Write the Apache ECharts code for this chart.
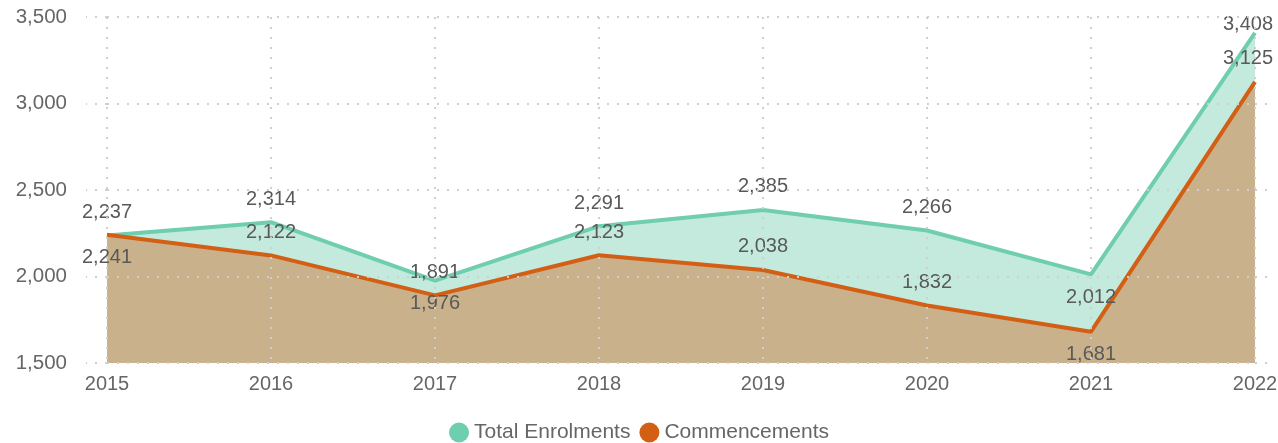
<!DOCTYPE html>
<html>
<head>
<meta charset="utf-8">
<script src="https://cdn.jsdelivr.net/npm/echarts@6/dist/echarts.min.js"></script>
<style>
  html, body { margin: 0; padding: 0; background: #fff; }
  #chart { width: 1278px; height: 443px; }
</style>
</head>
<body>
<div id="chart"></div>
<script>
const years = ["2015", "2016", "2017", "2018", "2019", "2020", "2021", "2022"];
const totalEnrolments = [2237, 2314, 1976, 2291, 2385, 2266, 2012, 3408];
const commencements = [2241, 2122, 1891, 2123, 2038, 1832, 1681, 3125];

const gridDots = { color: "#cfcfcf", width: 2, type: [2, 8] };

// labels that sit under their point instead of over it,
// the last one is pulled in from the right edge
function withLabels(values, below, lastOffset) {
  return values.map((v, i) => {
    if (below.includes(i)) {
      return { value: v, label: { position: "bottom" } };
    }
    if (i === values.length - 1) {
      return { value: v, label: { offset: lastOffset } };
    }
    return v;
  });
}

const totalData = withLabels(totalEnrolments, [2, 6], [-7, 15]);
const commData = withLabels(commencements, [0, 6], [-7, 0]);

const labelStyle = {
  show: true,
  position: "top",
  distance: 13,
  fontSize: 20,
  color: "#595959",
  formatter: p => p.value.toLocaleString("en-US")
};

const chart = echarts.init(document.querySelector("#chart"));
chart.setOption({
  animation: false,
  textStyle: { fontFamily: "Liberation Sans, Arial, sans-serif" },
  grid: { left: 107, right: 23, top: 17, bottom: 80, outerBoundsMode: "none", containLabel: false },
  legend: {
    top: 422,
    left: "center",
    padding: 0,
    icon: "circle",
    itemWidth: 20,
    itemHeight: 20,
    itemGap: 9,
    textStyle: { fontSize: 21, color: "#666" },
    data: ["Total Enrolments", "Commencements"]
  },
  xAxis: {
    type: "category",
    data: years,
    boundaryGap: false,
    z: 5,
    axisLine: { show: false },
    axisTick: { show: false },
    axisLabel: { color: "#666", fontSize: 20, margin: 11 },
    splitLine: { show: true, lineStyle: gridDots }
  },
  yAxis: [
    {
      type: "value",
      min: 1500,
      max: 3500,
      interval: 500,
      z: 5,
      axisLine: { show: false },
      axisTick: { show: true, length: 21, lineStyle: gridDots },
      axisLabel: {
        color: "#666",
        fontSize: 20.5,
        margin: 40,
        formatter: v => v.toLocaleString("en-US")
      },
      splitLine: { show: true, lineStyle: gridDots }
    },
    {
      type: "value",
      position: "right",
      min: 1500,
      max: 3500,
      interval: 500,
      z: 5,
      axisLine: { show: false },
      axisTick: { show: true, length: 12, lineStyle: gridDots },
      axisLabel: { show: false },
      splitLine: { show: false }
    }
  ],
  series: [
    {
      name: "Total Enrolments",
      type: "line",
      data: totalData,
      showSymbol: true,
      symbol: "circle",
      symbolSize: 0,
      color: "#6fcdb0",
      lineStyle: { width: 4, color: "#6fcdb0" },
      areaStyle: { color: "#c4eadd", opacity: 1 },
      label: labelStyle
    },
    {
      name: "Commencements",
      type: "line",
      data: commData,
      showSymbol: true,
      symbol: "circle",
      symbolSize: 0,
      color: "#d35f15",
      lineStyle: { width: 4, color: "#d35f15" },
      areaStyle: { color: "#c8b18b", opacity: 1 },
      label: labelStyle
    }
  ]
});
window.addEventListener("resize", () => chart.resize());
</script>
</body>
</html>
